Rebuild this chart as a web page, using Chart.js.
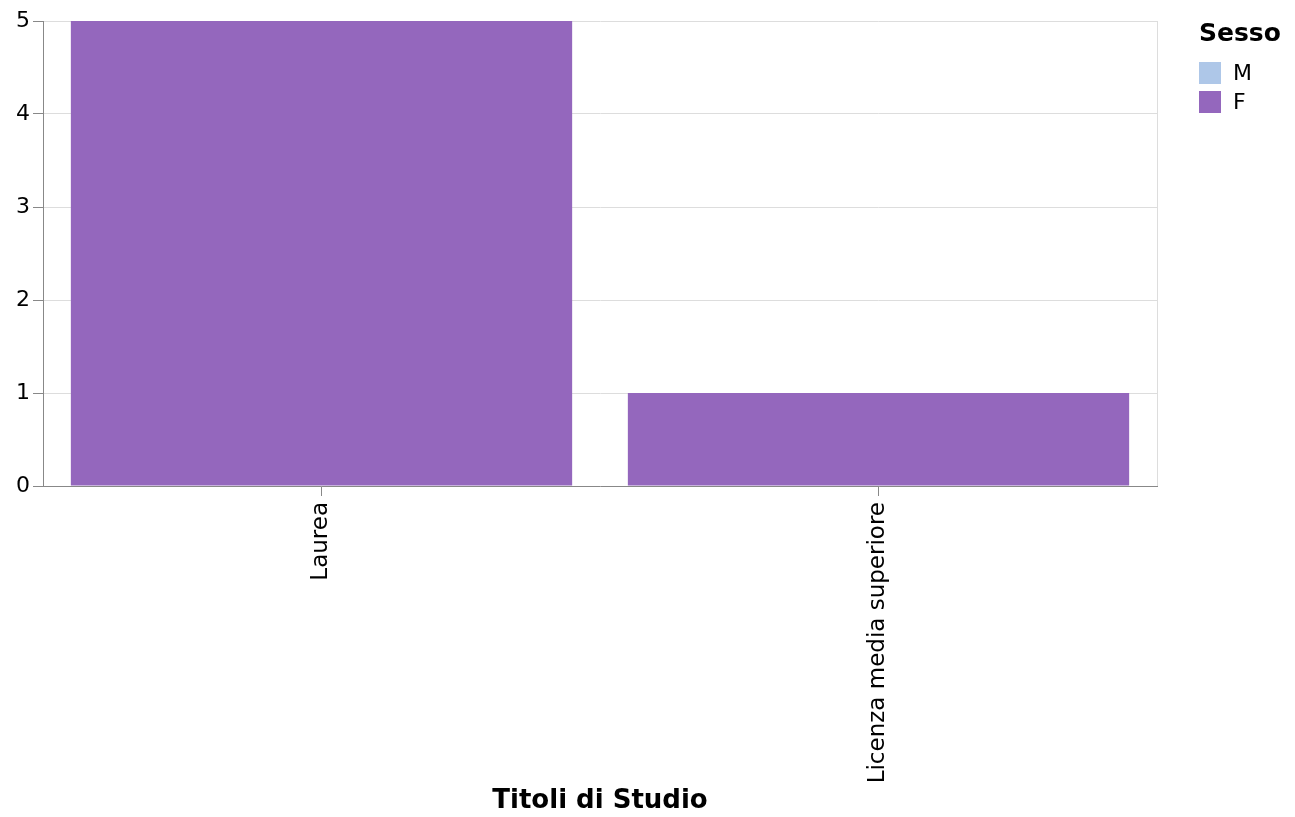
<!DOCTYPE html>
<html>
<head>
<meta charset="utf-8">
<script src="https://cdn.jsdelivr.net/npm/chart.js@4"></script>
<style>
  html, body { margin: 0; padding: 0; background: #fff; }
  #wrap { position: relative; width: 1295px; height: 817px; }
  #legend { position: absolute; left: 1199px; top: 18px; font-family: "DejaVu Sans", sans-serif; color: #000; }
  #legend .title { font-weight: bold; font-size: 25px; line-height: 30px; margin-bottom: 10px; }
  #legend .item { display: flex; align-items: center; font-size: 22px; height: 29px; }
  #legend .sw { width: 22px; height: 22px; margin-right: 12px; }
</style>
</head>
<body>
<div id="wrap">
  <canvas id="chart" width="1295" height="817"></canvas>
  <div id="legend"></div>
</div>
<script>
const categories = ['Laurea', 'Licenza media superiore'];
const seriesNames = ['M', 'F'];
const valuesM = [0, 0];
const valuesF = [5, 1];
const yTicks = [0, 1, 2, 3, 4, 5];
const colors = { M: '#aec7e8', F: '#9467bd' };

// light frame on the right edge of the plot, like the vega view stroke
const frame = {
  id: 'frame',
  beforeDatasetsDraw(chart) {
    const { ctx, chartArea: a } = chart;
    ctx.save();
    ctx.strokeStyle = '#dddddd';
    ctx.lineWidth = 1;
    ctx.beginPath();
    ctx.moveTo(a.right + 0.5, a.top);
    ctx.lineTo(a.right + 0.5, a.bottom);
    ctx.stroke();
    ctx.restore();
  }
};

Chart.defaults.font.family = '"DejaVu Sans", sans-serif';
Chart.defaults.color = '#000';

new Chart(document.getElementById('chart'), {
  type: 'bar',
  data: {
    labels: categories,
    datasets: [
      { label: seriesNames[0], data: valuesM, backgroundColor: colors.M, borderWidth: 0 },
      { label: seriesNames[1], data: valuesF, backgroundColor: colors.F, borderWidth: 0 },
    ]
  },
  options: {
    responsive: false,
    animation: false,
    datasets: { bar: { categoryPercentage: 0.9, barPercentage: 1 } },
    layout: { padding: { top: 21, right: 138, left: 0, bottom: 0 } },
    plugins: { legend: { display: false }, tooltip: { enabled: false } },
    scales: {
      x: {
        stacked: true,
        afterFit: axis => { axis.height = 331; },
        border: { color: '#888', width: 1 },
        grid: { offset: false, drawOnChartArea: false, drawTicks: true, tickLength: 10, tickColor: '#888' },
        ticks: { minRotation: 90, maxRotation: 90, font: { size: 23 }, color: '#000', padding: 6 },
        title: { display: true, text: 'Titoli di Studio', font: { size: 26, weight: 'bold' }, color: '#000', padding: { top: 4, bottom: 0 } }
      },
      y: {
        stacked: true,
        min: 0,
        max: 5,
        afterFit: axis => { axis.width = 43; },
        afterBuildTicks: axis => { axis.ticks = yTicks.map(v => ({ value: v })); },
        border: { color: '#888', width: 1 },
        grid: { color: '#dddddd', tickColor: '#888', tickLength: 10 },
        ticks: { font: { size: 22 }, color: '#000', padding: 3 }
      }
    }
  },
  plugins: [frame]
});

const legend = document.getElementById('legend');
legend.innerHTML = '<div class="title">Sesso</div>' + seriesNames.map(n =>
  `<div class="item"><span class="sw" style="background:${colors[n]}"></span>${n}</div>`).join('');
</script>
</body>
</html>
